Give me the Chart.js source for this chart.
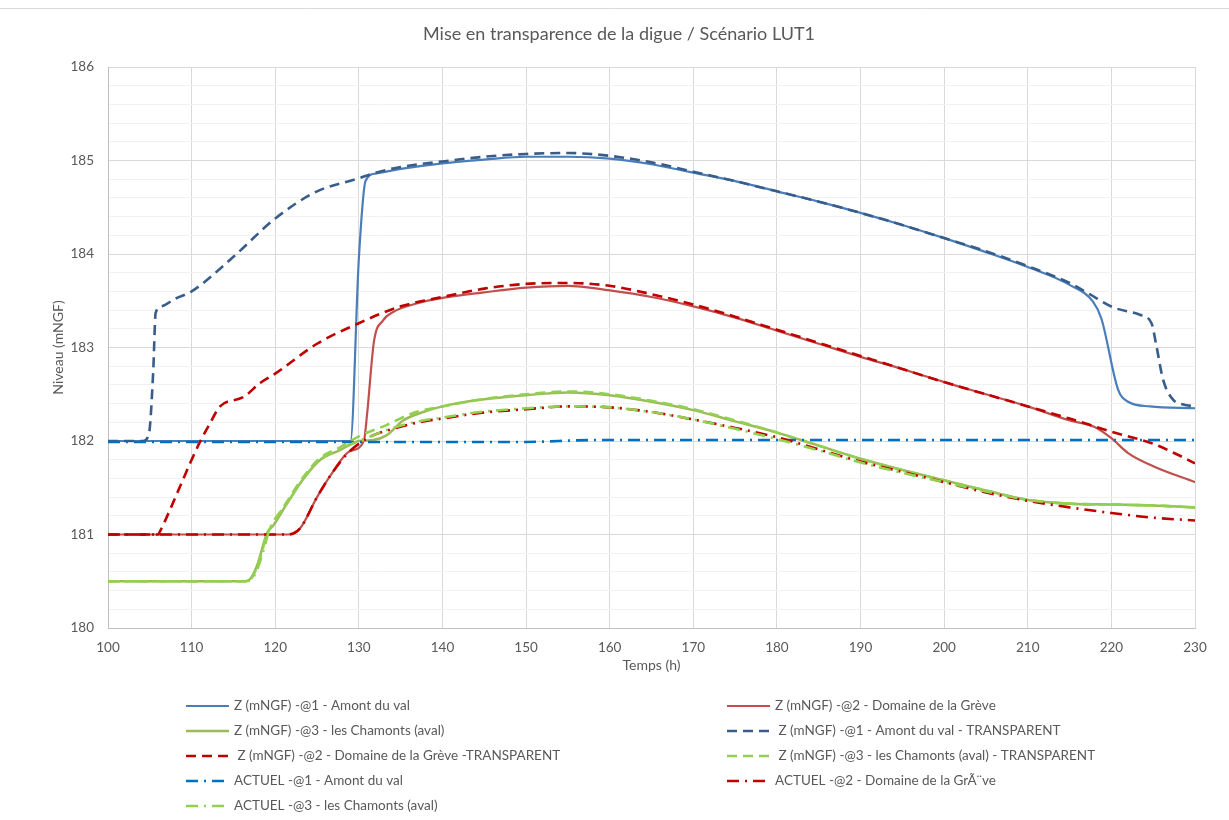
<!DOCTYPE html>
<html>
<head>
<meta charset="utf-8">
<title>Mise en transparence de la digue</title>
<script src="https://cdn.jsdelivr.net/npm/chart.js@4/dist/chart.umd.min.js"></script>
<style>
  html, body { margin: 0; padding: 0; background: #fff; }
</style>
</head>
<body>
<canvas id="levelsChart" width="1229" height="820"></canvas>
<script>
// [temps (h), niveau (mNGF)]
const amontVal = [[100,182.0],[129,182.0],[130,183.95],[130.8,184.78],[132,184.86],[135,184.91],[140,184.97],[145,185.01],[150,185.04],[155,185.04],[160,185.02],[165,184.96],[170,184.87],[175,184.78],[180,184.67],[185,184.56],[190,184.44],[195,184.31],[200,184.17],[205,184.02],[210,183.86],[215,183.67],[217.8,183.49],[218.8,183.31],[220.8,182.55],[222,182.42],[224.6,182.37],[230,182.35]];
const greve = [[100,181.0],[121.5,181.0],[123,181.07],[125,181.4],[126.9,181.67],[128.9,181.89],[130.6,182.0],[131,182.3],[131.8,183.06],[132.9,183.29],[134.1,183.38],[136.9,183.47],[140,183.53],[145,183.59],[150,183.64],[155,183.66],[160,183.61],[165,183.54],[170,183.44],[175,183.32],[180,183.18],[185,183.04],[190,182.9],[195,182.77],[200,182.63],[205,182.5],[210,182.37],[215,182.22],[218,182.15],[220,182.03],[222,181.87],[225,181.73],[230,181.56]];
const chamonts = [[100,180.5],[116,180.5],[116.8,180.51],[117.8,180.66],[119,181.01],[119.8,181.1],[121.4,181.33],[123.4,181.6],[125.4,181.8],[127.7,181.9],[130,182.0],[131.7,182.01],[133.3,182.06],[135.3,182.22],[137.7,182.31],[140,182.37],[144.5,182.44],[150,182.49],[155,182.52],[160,182.49],[165,182.42],[170,182.33],[175,182.21],[180,182.09],[185,181.95],[190,181.81],[195,181.69],[200,181.58],[205,181.47],[210,181.37],[215,181.33],[220,181.32],[225,181.31],[230,181.29]];
const amontValTransp = [[100,182.0],[104.2,182.0],[104.9,182.08],[105.4,182.73],[105.7,183.37],[106.4,183.44],[108,183.52],[110,183.6],[115,183.97],[120,184.38],[125,184.67],[130,184.81],[132,184.87],[135,184.93],[140,184.99],[145,185.04],[150,185.07],[155,185.08],[160,185.05],[165,184.98],[170,184.88],[175,184.78],[180,184.67],[185,184.56],[190,184.44],[195,184.31],[200,184.17],[205,184.03],[210,183.87],[215,183.69],[217.4,183.57],[220.2,183.43],[223.4,183.35],[224.8,183.26],[225.4,183.01],[226.2,182.65],[227.4,182.44],[228.6,182.39],[230,182.37]];
const greveTransp = [[100,181.0],[106,181.0],[106.2,181.03],[108.6,181.51],[109.8,181.76],[111,181.99],[112.2,182.19],[113.4,182.37],[116.2,182.47],[118.2,182.62],[120,182.72],[125,183.04],[130,183.26],[135,183.44],[140,183.54],[145,183.63],[150,183.68],[155,183.69],[160,183.66],[165,183.57],[170,183.46],[175,183.33],[180,183.19],[185,183.05],[190,182.91],[195,182.77],[200,182.63],[205,182.5],[210,182.37],[215,182.24],[220,182.1],[225,181.97],[228,181.85],[230,181.76]];
const chamontsTransp = [[100,180.5],[116.5,180.5],[117.3,180.55],[118.2,180.75],[119,181.0],[120,181.15],[121.4,181.35],[123.4,181.62],[125.4,181.82],[127.7,181.93],[130,182.05],[133.3,182.17],[136.5,182.3],[140,182.37],[145,182.45],[150,182.5],[155,182.53],[160,182.5],[165,182.43],[170,182.34],[175,182.22],[180,182.09],[185,181.95],[190,181.81],[195,181.69],[200,181.58],[205,181.47],[210,181.37],[215,181.33],[220,181.32],[225,181.31],[230,181.29]];
const actuelAmont = [[100,181.99],[150,181.99],[158,182.01],[230,182.01]];
const actuelGreve = [[100,181.0],[121.5,181.0],[123,181.07],[125,181.4],[126.9,181.67],[128.9,181.89],[131.7,182.06],[133.7,182.12],[137.7,182.21],[140,182.24],[144.5,182.3],[150,182.34],[155,182.37],[160,182.36],[165,182.31],[170,182.23],[175,182.14],[180,182.04],[185,181.91],[190,181.78],[195,181.67],[200,181.56],[205,181.45],[210,181.36],[215,181.29],[220,181.23],[225,181.18],[230,181.15]];
const actuelChamonts = [[100,180.5],[116.5,180.5],[117.5,180.56],[118.5,180.8],[119.3,181.05],[121.4,181.33],[123.4,181.6],[125.4,181.8],[127.7,181.91],[130,182.0],[131.7,182.06],[133.7,182.13],[137.7,182.22],[140,182.25],[144.5,182.31],[150,182.35],[155,182.37],[160,182.36],[165,182.31],[170,182.23],[175,182.13],[180,182.02],[185,181.9],[190,181.77],[195,181.66],[200,181.56],[205,181.46],[210,181.37],[215,181.33],[220,181.32],[225,181.31],[230,181.29]];

const seriesLabels = [
  "Z (mNGF) -@1 - Amont du val",
  "Z (mNGF) -@2 - Domaine de la Grève",
  "Z (mNGF) -@3 - les Chamonts (aval)",
  " Z (mNGF) -@1 - Amont du val - TRANSPARENT",
  " Z (mNGF) -@2 - Domaine de la Grève -TRANSPARENT",
  " Z (mNGF) -@3 - les Chamonts (aval) - TRANSPARENT",
  "ACTUEL -@1 - Amont du val",
  "ACTUEL -@2 - Domaine de la GrÃ¨ve",
  "ACTUEL -@3 - les Chamonts (aval)",
];
const chartTitle = "Mise en transparence de la digue / Scénario LUT1";

const TEXT = "#595959";
const FONT = "Lato";
const DASH = [10, 6];
const DASH_DOT = [12, 6, 2, 6];

const isMajor = (v) => Math.abs(v - Math.round(v)) < 1e-6;
const toPoints = (arr) => arr.map(([x, y]) => ({ x, y }));

function line(i, values, color, width, dash) {
  return {
    label: seriesLabels[i],
    data: toPoints(values),
    borderColor: color,
    backgroundColor: color,
    borderWidth: width,
    borderDash: dash,
    pointRadius: 0,
    cubicInterpolationMode: "monotone",
    fill: false,
    order: 20 - i, // later series sit on top
  };
}

// frame, centred title and the two-column legend
const decorations = {
  id: "decorations",
  afterDraw(chart) {
    const ctx = chart.ctx;
    ctx.save();
    ctx.strokeStyle = "#D9D9D9";
    ctx.lineWidth = 1;
    ctx.beginPath();
    ctx.moveTo(0, 8.5);
    ctx.lineTo(chart.width, 8.5);
    ctx.stroke();

    ctx.fillStyle = TEXT;
    ctx.font = "18px " + FONT;
    ctx.textAlign = "center";
    ctx.textBaseline = "middle";
    ctx.fillText(chartTitle, 619, 34);
    ctx.restore();

    const cols = [186, 727];
    const rows = [706, 731, 756, 781, 806];
    chart.data.datasets.forEach((ds, i) => {
      const x = cols[i % 2];
      const y = rows[Math.floor(i / 2)];
      ctx.save();
      ctx.strokeStyle = ds.borderColor;
      ctx.lineWidth = ds.borderWidth;
      ctx.setLineDash(ds.borderDash || []);
      ctx.beginPath();
      ctx.moveTo(x, y);
      ctx.lineTo(x + 43, y);
      ctx.stroke();
      ctx.setLineDash([]);
      ctx.fillStyle = TEXT;
      ctx.font = "13.5px " + FONT;
      ctx.textBaseline = "middle";
      ctx.fillText(ds.label, x + 48, y);
      ctx.restore();
    });
  },
};

new Chart(document.getElementById("levelsChart"), {
  type: "line",
  data: {
    datasets: [
      line(0, amontVal, "#4A7EBB", 2.2, []),
      line(1, greve, "#C0504D", 2.2, []),
      line(2, chamonts, "#9BBB59", 2.5, []),
      line(3, amontValTransp, "#385D8A", 2.6, DASH),
      line(4, greveTransp, "#C00000", 2.6, DASH),
      line(5, chamontsTransp, "#92D050", 2.6, DASH),
      line(6, actuelAmont, "#0070C0", 2.6, DASH_DOT),
      line(7, actuelGreve, "#C00000", 2.6, DASH_DOT),
      line(8, actuelChamonts, "#92D050", 2.6, DASH_DOT),
    ],
  },
  options: {
    responsive: false,
    animation: false,
    layout: { padding: { top: 67, left: 0, right: 34, bottom: 136 } },
    plugins: {
      legend: { display: false },
      tooltip: { enabled: false },
    },
    scales: {
      x: {
        type: "linear",
        min: 100,
        max: 230,
        afterFit(scale) { scale.height = 56; },
        ticks: { stepSize: 10, padding: 12, color: TEXT, font: { family: FONT, size: 13.5 } },
        grid: { color: "#D9D9D9", drawTicks: false },
        border: { color: "#BFBFBF" },
        title: {
          display: true,
          text: "Temps (h)",
          color: TEXT,
          font: { family: FONT, size: 14 },
          padding: { top: 0, bottom: 10 },
        },
      },
      y: {
        min: 180,
        max: 186,
        afterFit(scale) { scale.width = 108; },
        ticks: {
          stepSize: 0.2,
          maxTicksLimit: 100,
          autoSkip: false,
          padding: 14,
          color: TEXT,
          font: { family: FONT, size: 13.5 },
          callback: (v) => (isMajor(v) ? Math.round(v) : ""),
        },
        grid: {
          color: (c) => (isMajor(c.tick.value) ? "#D9D9D9" : "#F2F2F2"),
          drawTicks: false,
        },
        border: { color: "#BFBFBF" },
        title: {
          display: true,
          text: "Niveau (mNGF)",
          color: TEXT,
          font: { family: FONT, size: 14 },
          padding: { top: 50, bottom: 0 },
        },
      },
    },
  },
  plugins: [decorations],
});
</script>
</body>
</html>
